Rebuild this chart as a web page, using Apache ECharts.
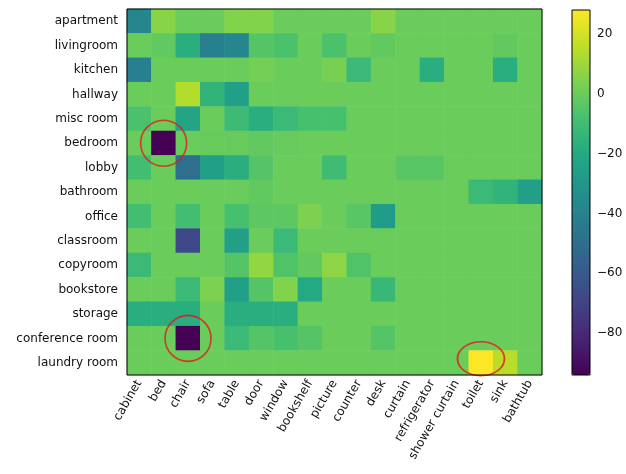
<!DOCTYPE html>
<html>
<head>
<meta charset="utf-8">
<script src="https://cdn.jsdelivr.net/npm/echarts@6/dist/echarts.min.js"></script>
<style>
  html, body { margin: 0; padding: 0; background: #fff; }
  #main { width: 626px; height: 474px; }
</style>
</head>
<body>
<div id="main"></div>
<script>
// categories
var objects = ['cabinet', 'bed', 'chair', 'sofa', 'table', 'door', 'window', 'bookshelf', 'picture',
  'counter', 'desk', 'curtain', 'refrigerator', 'shower curtain', 'toilet', 'sink', 'bathtub'];
var rooms = ['apartment', 'livingroom', 'kitchen', 'hallway', 'misc room', 'bedroom', 'lobby', 'bathroom',
  'office', 'classroom', 'copyroom', 'bookstore', 'storage', 'conference room', 'laundry room'];

// one row per room
var apartment      = [-38, 6, 0, 0, 5, 5, 0, 0, 0, 0, 6, 0, 0, 0, 0, 0, 0];
var livingroom     = [0, -2, -18, -42, -38, -5, -7, 0, -7, 0, -2, 0, 0, 0, 0, -2, 0];
var kitchen        = [-42, 0, 0, 0, 0, 2, 0, 0, 3, -12, 0, 0, -18, 0, 0, -18, 0];
var hallway        = [0, 0, 14, -15, -25, 0, 0, 0, 0, 0, 0, 0, 0, 0, 0, 0, 0];
var miscRoom       = [-7, 0, -23, 0, -11, -18, -12, -8, -8, 0, 0, 0, 0, 0, 0, 0, 0];
var bedroom        = [0, -94, 0, -1, -1, -2, -1, 0, 0, 0, 0, 0, 0, 0, 0, 0, 0];
var lobby          = [-9, 0, -50, -25, -18, -5, 0, 0, -10, 0, 0, -4, -4, 0, 0, 0, 0];
var bathroom       = [0, 0, 0, 0, 0, -2, 0, 0, 0, 0, 0, 0, 0, 0, -12, -15, -25];
var office         = [-9, 0, -9, 0, -8, -3, -3, 4, 0, -4, -27, 0, 0, 0, 0, 0, 0];
var classroom      = [0, 0, -68, 0, -25, 0, -12, 0, 0, 0, 0, 0, 0, 0, 0, 0, 0];
var copyroom       = [-12, 0, 0, 0, -5, 8, -6, -2, 7, -6, 0, 0, 0, 0, 0, 0, 0];
var bookstore      = [0, 0, -12, 4, -25, -5, 5, -20, 0, 0, -13, 0, 0, 0, 0, 0, 0];
var storage        = [-18, -18, -18, 0, -18, -18, -18, 0, 0, 0, 0, 0, 0, 0, 0, 0, 0];
var conferenceRoom = [0, 0, -94, 0, -12, -5, -8, -5, 0, 0, -5, 0, 0, 0, 0, 0, 0];
var laundryRoom    = [0, 0, 0, 0, 0, 0, 0, 0, 0, 0, 0, 0, 0, 0, 28, 15, 0];

var matrix = [apartment, livingroom, kitchen, hallway, miscRoom, bedroom, lobby, bathroom,
  office, classroom, copyroom, bookstore, storage, conferenceRoom, laundryRoom];

// colour scale
var scaleMin = -94;
var scaleMax = 28;
var barTicks = [-80, -60, -40, -20, 0, 20];
var viridis = ['#440154', '#482475', '#414487', '#355f8d', '#2a788e', '#21918c',
  '#22a884', '#44bf70', '#7ad151', '#bddf26', '#fde725'];

// red rings: [object, room]
var circled = [['bed', 'bedroom'], ['chair', 'conference room'], ['toilet', 'laundry room']];

var heatData = [];
for (var r = 0; r < rooms.length; r++) {
  for (var c = 0; c < objects.length; c++) {
    heatData.push([c, r, matrix[r][c]]);
  }
}

var ringData = circled.map(function (p) {
  var d = { value: [p[0], p[1]] };
  if (p[1] == 'laundry room') {
    d.symbolSize = [47, 34];
    d.symbolOffset = [0, -4];
  }
  return d;
});

function minus(v) {
  return String(v).replace('-', '\u2212');
}

var font = 'DejaVu Sans';
var chart = echarts.init(document.getElementById('main'));
chart.setOption({
  animation: false,
  textStyle: { fontFamily: font },
  grid: [{
    left: 127, top: 9, width: 415, height: 366,
    show: true, borderColor: '#000', borderWidth: 1, backgroundColor: 'transparent', z: 10
  }, {
    left: 572, top: 10, width: 18, height: 365,
    show: true, borderColor: '#000', borderWidth: 1, backgroundColor: 'transparent', z: 10
  }],
  xAxis: [{
    type: 'category', data: objects, gridIndex: 0,
    axisLine: { show: false },
    axisTick: { alignWithLabel: true, length: 5, lineStyle: { color: '#000' } },
    axisLabel: { rotate: 60, interval: 0, margin: 6, fontSize: 12, color: '#111', fontFamily: font },
    splitLine: { show: false }
  }, {
    type: 'value', gridIndex: 1, show: false
  }],
  yAxis: [{
    type: 'category', data: rooms, inverse: true, gridIndex: 0,
    axisLine: { show: false },
    axisTick: { alignWithLabel: true, length: 5, lineStyle: { color: '#000' } },
    axisLabel: { interval: 0, margin: 9, fontSize: 12, color: '#111', fontFamily: font },
    splitLine: { show: false }
  }, {
    type: 'value', gridIndex: 1, position: 'right', min: scaleMin, max: scaleMax,
    axisLine: { show: false },
    axisTick: { show: true, length: 5, customValues: barTicks, lineStyle: { color: '#000' } },
    axisLabel: { customValues: barTicks, margin: 7, fontSize: 12, color: '#111', fontFamily: font, formatter: minus },
    splitLine: { show: false }
  }],
  visualMap: {
    type: 'continuous', seriesIndex: 0, min: scaleMin, max: scaleMax,
    calculable: false, orient: 'vertical', left: 572, top: 10, padding: 0,
    itemWidth: 18, itemHeight: 365, text: null, showLabel: false,
    inRange: { color: viridis }
  },
  series: [{
    type: 'heatmap', xAxisIndex: 0, yAxisIndex: 0, data: heatData,
    itemStyle: { borderWidth: 0 },
    emphasis: { disabled: true }
  }, {
    type: 'scatter', xAxisIndex: 0, yAxisIndex: 0, data: ringData,
    symbol: 'circle', symbolSize: 46, z: 5,
    itemStyle: { color: 'rgba(0,0,0,0)', borderColor: '#e8141c', borderWidth: 1.6 }
  }]
});
</script>
</body>
</html>
